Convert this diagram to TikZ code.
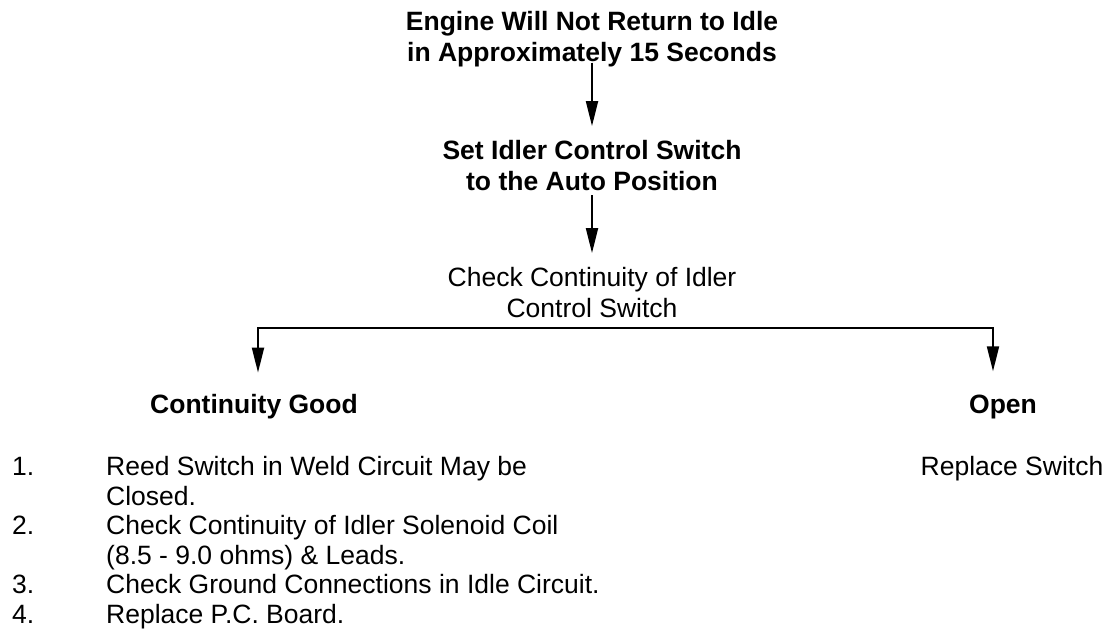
\documentclass[tikz,border=0pt]{standalone}
\usepackage{fontspec}
\setmainfont{Liberation Sans}
\usetikzlibrary{arrows.meta}

\tikzset{
  >={Triangle[length=25pt,width=12pt]},
  lbl/.style={inner sep=0pt, anchor=base, align=center, font=\fontsize{26.5}{30.5}\selectfont},
  head/.style={lbl, font=\fontsize{26.5}{30.5}\selectfont\bfseries},
  item/.style={inner sep=0pt, anchor=base west, align=left, font=\fontsize{26.5}{29.6}\selectfont},
}

\begin{document}
\begin{tikzpicture}[x=1pt,y=-1pt]
  \useasboundingbox (0,0) rectangle (1104,643);

  % multi-line nodes sit on the baseline of their last line
  \node (title) [head] at (592,61) {Engine Will Not Return to Idle\\in Approximately 15 Seconds};
  \node (setsw) [head] at (592,190) {Set Idler Control Switch\\to the Auto Position};
  \node (check) [lbl] at (592,317) {Check Continuity of Idler\\Control Switch};
  \node (good) [head] at (254,413) {Continuity Good};
  \node (open) [head] at (1003,413) {Open};
  \node (fix) [lbl] at (1012,475) {Replace Switch};

  \node (n1) [item] at (12,475) {1.};
  \node (t1) [item] at (106,505) {Reed Switch in Weld Circuit May be\\Closed.};
  \node (n2) [item] at (12,534) {2.};
  \node (t2) [item] at (106,564) {Check Continuity of Idler Solenoid Coil\\(8.5 - 9.0 ohms) \& Leads.};
  \node (n3) [item] at (12,593) {3.};
  \node (t3) [item] at (106,593) {Check Ground Connections in Idle Circuit.};
  \node (n4) [item] at (12,623) {4.};
  \node (t4) [item] at (106,623) {Replace P.C. Board.};

  \coordinate (forkL) at (258,328);
  \coordinate (forkR) at (993,328);

  \draw [->,line width=2pt,shorten <=-4pt,shorten >=14pt] (title) to (setsw);
  \draw [->,line width=2pt,shorten <=5pt,shorten >=14pt] (setsw) to (check);
  \draw [<->,line width=2pt,shorten <=21pt,shorten >=23pt] (forkL |- good.north) -- (forkL) -- (forkR) -- (forkR |- open.north);
\end{tikzpicture}
\end{document}
